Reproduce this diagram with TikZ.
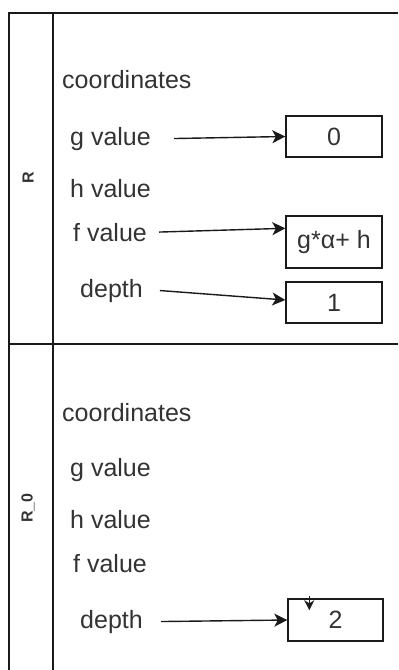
\documentclass[tikz,border=0pt]{standalone}
\usepackage{fontspec}
\setmainfont{Liberation Sans}
\usetikzlibrary{arrows.meta,calc}
\definecolor{txt}{HTML}{333333}
\definecolor{ln}{HTML}{1A1A1A}
\begin{document}
\begin{tikzpicture}[x=1bp,y=-1bp,
  lbl/.style={anchor=base west, inner sep=0pt, font=\fontsize{25bp}{30bp}\selectfont, text=txt},
  valbox/.style={draw=ln, line width=1.4bp, minimum width=96bp, inner sep=0pt, font=\fontsize{25bp}{30bp}\selectfont, text=txt},
  arr/.style={draw=ln, line width=1.4bp, -{Stealth[length=13bp,width=13bp,inset=3.5bp]}},
  smallarr/.style={draw=ln, line width=1.4bp, -{Stealth[length=10bp,width=10bp,inset=3bp]}},
  lane/.style={draw=ln, line width=1.4bp},
  lanetitle/.style={rotate=90, font=\bfseries\fontsize{16bp}{19bp}\selectfont, text=txt, inner sep=0pt}]
\useasboundingbox (0,0) rectangle (398,670);
% swimlane frame
\draw[lane] (398,13) -- (9,13) -- (9,670);
\draw[lane] (53,13) -- (53,670);
\draw[lane] (9,344) -- (398,344);
% lane titles
\node[lanetitle] (tR) at (28,178) {R};
\node[lanetitle] (tR0) at (28,508) {R\_0};
% upper lane
\node[lbl] (c1) at (62,89) {coordinates};
\node[lbl] (g1) at (70,145) {g value};
\node[lbl] (h1) at (70,197) {h value};
\node[lbl] (f1) at (73,241) {f value};
\node[lbl] (d1) at (80,297) {depth};
\node[valbox, minimum height=41bp] (b0) at (334,136.5) {0};
\node[valbox, minimum height=52bp] (bf) at (334,242) {g*α+ h};
\node[valbox, minimum height=41bp] (b1) at (334,302.5) {1};
\draw[arr] ([xshift=23bp]g1.east) -- (b0.west);
\draw[arr] ([xshift=12bp]f1.east) -- ($(bf.north west)+(0,13)$);
\draw[arr] ([xshift=17bp]d1.east) -- ($(b1.west)+(0,-2.5)$);
% lower lane
\node[lbl] (c2) at (62,421) {coordinates};
\node[lbl] (g2) at (70,476) {g value};
\node[lbl] (h2) at (70,528) {h value};
\node[lbl] (f2) at (73,572) {f value};
\node[lbl] (d2) at (80,628) {depth};
\node[valbox, minimum width=95bp, minimum height=42bp] (b2) at (335.5,620) {2};
\draw[arr] ([xshift=18bp]d2.east) -- (b2.west);
\draw[smallarr] ($(b2.north west)+(22,-2)$) -- ($(b2.north west)+(22,12)$);
\end{tikzpicture}
\end{document}
